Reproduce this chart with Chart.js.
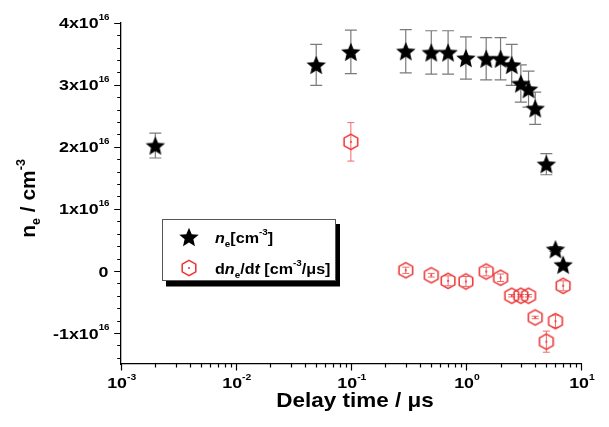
<!DOCTYPE html>
<html>
<head>
<meta charset="utf-8">
<script src="https://cdn.jsdelivr.net/npm/chart.js@4.4.0/dist/chart.umd.min.js"></script>
<style>
html,body{margin:0;padding:0;background:#fff;}
#wrap{width:609px;height:427px;position:relative;}
</style>
</head>
<body>
<div id="wrap"><canvas id="c"></canvas></div>
<script>
// ---- data (electron density and its time derivative) ----
const timeNe = [0.002, 0.05, 0.1, 0.3, 0.5, 0.7, 1.0, 1.5, 2.0, 2.5, 3.0, 3.5, 4.0, 5.0, 6.0, 7.0];
const neValues = [2.02e16, 3.32e16, 3.53e16, 3.54e16, 3.52e16, 3.52e16, 3.43e16, 3.42e16, 3.42e16, 3.32e16, 3.02e16, 2.93e16, 2.62e16, 1.72e16, 0.35e16, 0.10e16];
const neErrors = [0.20e16, 0.33e16, 0.35e16, 0.35e16, 0.35e16, 0.35e16, 0.34e16, 0.34e16, 0.34e16, 0.33e16, 0.30e16, 0.29e16, 0.26e16, 0.17e16, 0.04e16, 0.01e16];

const timeRate = [0.1, 0.3, 0.5, 0.7, 1.0, 1.5, 2.0, 2.5, 3.0, 3.5, 4.0, 5.0, 6.0, 7.0];
const rateValues = [2.08e16, 0.01e16, -0.07e16, -0.16e16, -0.17e16, -0.01e16, -0.11e16, -0.40e16, -0.40e16, -0.40e16, -0.75e16, -1.14e16, -0.81e16, -0.24e16];
const rateErrors = [0.31e16, 0.05e16, 0.03e16, 0.08e16, 0.08e16, 0.07e16, 0.06e16, 0.02e16, 0.02e16, 0.02e16, 0.02e16, 0.17e16, 0.10e16, 0.08e16];

// ---- tick labels ----
const xMajorTicks = [0.001, 0.01, 0.1, 1, 10];
const xTickLabels = [['10','-3'], ['10','-2'], ['10','-1'], ['10','0'], ['10','1']];
const yMajorTicks = [-1e16, 0, 1e16, 2e16, 3e16, 4e16];
const yTickLabels = [['-1x10','16'], ['0',''], ['1x10','16'], ['2x10','16'], ['3x10','16'], ['4x10','16']];

const FF = '"Liberation Sans", Arial, Helvetica, sans-serif';

function makeStar() {
  const s = 24, c = document.createElement('canvas');
  c.width = s; c.height = s;
  const g = c.getContext('2d');
  const cx = s / 2, cy = s / 2 + 0.9, R = 10.2, r = 4.6;
  g.beginPath();
  for (let i = 0; i < 10; i++) {
    const a = -Math.PI / 2 + i * Math.PI / 5;
    const rr = (i % 2) ? r : R;
    const px = cx + rr * Math.cos(a), py = cy + rr * Math.sin(a);
    if (i === 0) g.moveTo(px, py); else g.lineTo(px, py);
  }
  g.closePath();
  g.fillStyle = '#000';
  g.fill();
  return c;
}
function makeHex() {
  const s = 20, c = document.createElement('canvas');
  c.width = s; c.height = s;
  const g = c.getContext('2d');
  const cx = s / 2, cy = s / 2, R = 7.6, hw = 6.8;
  g.beginPath();
  g.moveTo(cx, cy - R);
  g.lineTo(cx + hw, cy - R / 2);
  g.lineTo(cx + hw, cy + R / 2);
  g.lineTo(cx, cy + R);
  g.lineTo(cx - hw, cy + R / 2);
  g.lineTo(cx - hw, cy - R / 2);
  g.closePath();
  g.strokeStyle = '#ec3232';
  g.lineWidth = 1.5;
  g.stroke();
  g.beginPath();
  g.arc(cx, cy, 1.0, 0, Math.PI * 2);
  g.fillStyle = '#ec3232';
  g.fill();
  return c;
}
const starImg = makeStar();
const hexImg = makeHex();

function fontFor(kind, size, ss) {
  if (kind === 'bi') return 'italic bold ' + size + 'px ' + FF;
  if (kind === 'sup' || kind === 'sub') return 'bold ' + ss + 'px ' + FF;
  return 'bold ' + size + 'px ' + FF;
}
function measureRich(ctx, parts, size, ss) {
  let w = 0;
  for (const p of parts) { ctx.font = fontFor(p[1], size, ss); w += ctx.measureText(p[0]).width; }
  return w;
}
function drawRich(ctx, parts, x, y, o) {
  ctx.save();
  ctx.translate(x, y);
  ctx.scale(o.sx || 1, 1);
  const w = measureRich(ctx, parts, o.size, o.ss);
  let cx = o.align === 'center' ? -w / 2 : (o.align === 'right' ? -w : 0);
  ctx.textAlign = 'left';
  ctx.textBaseline = 'alphabetic';
  ctx.fillStyle = o.color || '#000';
  for (const p of parts) {
    ctx.font = fontFor(p[1], o.size, o.ss);
    let dy = 0;
    if (p[1] === 'sup') dy = -o.supDy;
    if (p[1] === 'sub') dy = o.subDy;
    ctx.fillText(p[0], cx, dy);
    cx += ctx.measureText(p[0]).width;
  }
  ctx.restore();
}

const customPlugin = {
  id: 'customDecor',
  beforeDatasetsDraw(chart) {
    const ctx = chart.ctx, xs = chart.scales.x, ys = chart.scales.y;
    ctx.save();
    // error bars of n_e
    ctx.strokeStyle = '#7a7a7a'; ctx.lineWidth = 1.2;
    timeNe.forEach((t, i) => {
      const px = xs.getPixelForValue(t);
      const y1 = ys.getPixelForValue(neValues[i] + neErrors[i]);
      const y2 = ys.getPixelForValue(neValues[i] - neErrors[i]);
      ctx.beginPath();
      ctx.moveTo(px, y1); ctx.lineTo(px, y2);
      ctx.moveTo(px - 6, y1); ctx.lineTo(px + 6, y1);
      ctx.moveTo(px - 6, y2); ctx.lineTo(px + 6, y2);
      ctx.stroke();
    });
    // error bars of dn_e/dt
    ctx.strokeStyle = '#f06a6a'; ctx.lineWidth = 1.0;
    timeRate.forEach((t, i) => {
      const px = xs.getPixelForValue(t);
      const y1 = ys.getPixelForValue(rateValues[i] + rateErrors[i]);
      const y2 = ys.getPixelForValue(rateValues[i] - rateErrors[i]);
      ctx.beginPath();
      ctx.moveTo(px, y1); ctx.lineTo(px, y2);
      ctx.moveTo(px - 3.5, y1); ctx.lineTo(px + 3.5, y1);
      ctx.moveTo(px - 3.5, y2); ctx.lineTo(px + 3.5, y2);
      ctx.stroke();
    });
    ctx.restore();
  },
  afterDraw(chart) {
    const ctx = chart.ctx, xs = chart.scales.x, ys = chart.scales.y, a = chart.chartArea;
    ctx.save();
    ctx.strokeStyle = '#000'; ctx.lineWidth = 1.2;
    // y tick marks
    ctx.beginPath();
    for (let k = -7; k <= 20; k++) {
      const v = k * 0.2e16;
      const py = Math.round(ys.getPixelForValue(v)) + 0.5;
      const len = (k % 5 === 0) ? 6.5 : 3.5;
      ctx.moveTo(a.left - len, py); ctx.lineTo(a.left, py);
    }
    // x tick marks
    for (let e = -3; e <= 0; e++) {
      for (let m = 1; m <= 9; m++) {
        const v = m * Math.pow(10, e);
        const px = Math.round(xs.getPixelForValue(v)) + 0.5;
        const len = (m === 1) ? 6.5 : 3.5;
        ctx.moveTo(px, a.bottom); ctx.lineTo(px, a.bottom + len);
      }
    }
    const pe = Math.round(xs.getPixelForValue(10)) + 0.5;
    ctx.moveTo(pe, a.bottom); ctx.lineTo(pe, a.bottom + 6.5);
    ctx.stroke();

    // y tick labels
    yMajorTicks.forEach((v, i) => {
      const py = ys.getPixelForValue(v);
      const parts = [[yTickLabels[i][0], 'b']];
      if (yTickLabels[i][1]) parts.push([yTickLabels[i][1], 'sup']);
      drawRich(ctx, parts, yTickLabels[i][1] ? 109.5 : 108.5, py + 5.6, {size: 15.5, ss: 8.5, supDy: 8.6, subDy: 3, sx: 1.15, align: 'right'});
    });
    // x tick labels
    xMajorTicks.forEach((v, i) => {
      const px = xs.getPixelForValue(v);
      drawRich(ctx, [[xTickLabels[i][0], 'b'], [xTickLabels[i][1], 'sup']], px + 1, 388, {size: 15.5, ss: 9, supDy: 7.8, subDy: 3, sx: 1.15, align: 'center'});
    });
    // x title
    drawRich(ctx, [['Delay time / μs', 'b']], 355, 406.5, {size: 21, ss: 13, supDy: 9, subDy: 4, sx: 1.07, align: 'center'});
    // y title
    ctx.save();
    ctx.translate(35, 198.5);
    ctx.rotate(-Math.PI / 2);
    drawRich(ctx, [['n', 'b'], ['e', 'sub'], [' / cm', 'b'], ['-3', 'sup']], 0, 0, {size: 21, ss: 12.5, supDy: 10, subDy: 5, sx: 1, align: 'center'});
    ctx.restore();

    // legend
    ctx.fillStyle = '#000';
    ctx.fillRect(166, 224, 174, 62.5);
    ctx.fillStyle = '#fff';
    ctx.fillRect(162, 219, 174, 62);
    ctx.strokeStyle = '#555'; ctx.lineWidth = 1;
    ctx.strokeRect(162.5, 219.5, 173, 61);
    ctx.drawImage(starImg, 189 - starImg.width / 2, 237 - starImg.height / 2);
    ctx.drawImage(hexImg, 189 - hexImg.width / 2, 268 - hexImg.height / 2);
    const lo = {size: 15.5, ss: 9.5, supDy: 7.5, subDy: 4.5, sx: 1.04, align: 'left'};
    drawRich(ctx, [['n', 'bi'], ['e', 'sub'], ['[cm', 'b'], ['-3', 'sup'], [']', 'b']], 215, 242.5, lo);
    drawRich(ctx, [['d', 'b'], ['n', 'bi'], ['e', 'sub'], ['/d', 'b'], ['t', 'bi'], [' [cm', 'b'], ['-3', 'sup'], ['/μs]', 'b']], 215, 273.5, lo);
    ctx.restore();
  }
};

const chart = new Chart(document.getElementById('c'), {
  type: 'scatter',
  data: {
    datasets: [
      {
        label: 'n_e [cm^-3]',
        data: timeNe.map((t, i) => ({x: t, y: neValues[i]})),
        pointStyle: starImg,
        pointRadius: 9,
        showLine: false,
        clip: false
      },
      {
        label: 'dn_e/dt [cm^-3/μs]',
        data: timeRate.map((t, i) => ({x: t, y: rateValues[i]})),
        pointStyle: hexImg,
        pointRadius: 8,
        showLine: false,
        clip: false
      }
    ]
  },
  options: {
    responsive: true,
    maintainAspectRatio: false,
    animation: false,
    devicePixelRatio: 1,
    layout: {padding: {top: 22.7, right: 28, left: 0, bottom: 0}},
    plugins: {legend: {display: false}, tooltip: {enabled: false}, title: {display: false}},
    scales: {
      x: {
        type: 'logarithmic',
        position: 'bottom',
        min: 0.001,
        max: 10,
        grid: {display: false, drawTicks: false},
        border: {display: true, color: '#000', width: 1.3},
        ticks: {display: false},
        afterBuildTicks(s) { s.ticks = xMajorTicks.map(v => ({value: v, major: true})); },
        afterFit(s) { s.height = 63; }
      },
      y: {
        type: 'linear',
        position: 'left',
        min: -1.5e16,
        max: 4e16,
        grid: {display: false, drawTicks: false},
        border: {display: true, color: '#000', width: 1.3},
        ticks: {display: false},
        afterBuildTicks(s) { s.ticks = yMajorTicks.map(v => ({value: v})); },
        afterFit(s) { s.width = 120.7; }
      }
    }
  },
  plugins: [customPlugin]
});
</script>
</body>
</html>
